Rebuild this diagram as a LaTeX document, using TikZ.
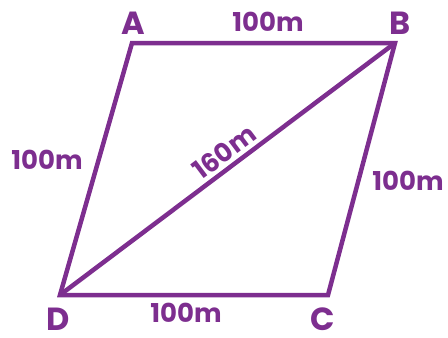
\documentclass[tikz,border=0pt]{standalone}
\usepackage{fontspec}
\setmainfont{Poppins}
\definecolor{pur}{HTML}{7D2E8F}
\begin{document}
\begin{tikzpicture}[x=1pt,y=-1pt,
  edge/.style={draw=pur,line width=4.5pt,line join=miter},
  lbl/.style={text=pur,font=\bfseries\fontsize{26}{26}\selectfont,inner sep=0pt},
  vlbl/.style={text=pur,font=\bfseries\fontsize{32}{32}\selectfont,inner sep=0pt}]
\useasboundingbox (0,0) rectangle (448,338);
\coordinate (A) at (132,43);
\coordinate (B) at (395,43);
\coordinate (C) at (328,295);
\coordinate (D) at (60,295);
\draw[edge] (A) -- (B) -- (C) -- (D) -- cycle;
\draw[edge] (D) -- (B);
\node[vlbl] (la) at (133,23) {A};
\node[vlbl] (lb) at (400,23) {B};
\node[vlbl] (lc) at (323,319) {C};
\node[vlbl] (ld) at (58,319) {D};
\node[lbl] (t1) at (268,22) {100m};
\node[lbl] (t2) at (47,160) {100m};
\node[lbl] (t3) at (408,181) {100m};
\node[lbl] (t4) at (186,313) {100m};
\node[lbl,rotate=36.9] (t5) at (224,152) {160m};
\end{tikzpicture}
\end{document}
